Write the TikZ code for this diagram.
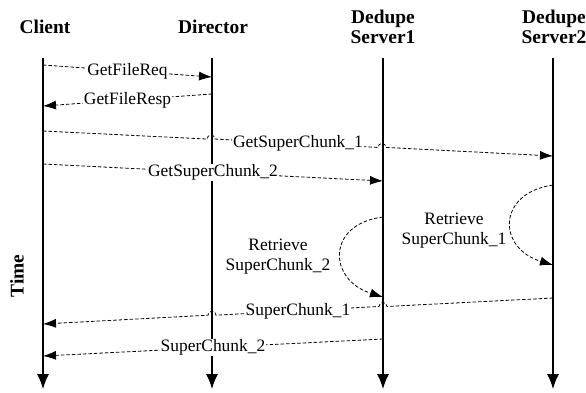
\documentclass[tikz,border=0pt]{standalone}
\usepackage{fontspec}
\setmainfont{Liberation Serif}
\usepackage{tikz}
\usetikzlibrary{arrows.meta,calc,positioning}

\tikzset{
	head/.style={align=center, inner sep=0pt, font=\fontsize{19.5}{20}\selectfont\bfseries},
	life/.style={draw=black, line width=1.2bp, -{Latex[length=15bp,width=12bp]}},
	msg/.style={draw=black, line width=0.8bp, dash pattern=on 3.5bp off 2bp, ->},
	lbl/.style={fill=white, inner sep=1bp, font=\fontsize{17.5}{19}\selectfont},
	note/.style={align=center, inner sep=0pt, font=\fontsize{17.5}{20}\selectfont}
}

\begin{document}
\begin{tikzpicture}[x=1bp,y=-1bp,>={Latex[length=13bp,width=9bp]}]
	\useasboundingbox (0,0) rectangle (586,392);
	
	% headers
	\node[head] (client) at (45,27) {Client};
	\node[head] (director) at (213,27) {Director};
	\node[head] (ds1) at (383,27) {Dedupe\\Server1};
	\node[head] (ds2) at (554,27) {Dedupe\\Server2};
	\node[head, rotate=90] (time) at (17,276) {Time};
	
	% lifelines
	\foreach \n/\x in {cl/43,di/212,sa/383,sb/553} {
		\coordinate (\n-top) at (\x,58);
		\coordinate (\n-end) at (\x,389);
		\draw[life] (\n-top) -- (\n-end);
	}
	
	% message ends
	\coordinate (m1a) at (43,65);   \coordinate (m1b) at (212,77);
	\coordinate (m2a) at (212,94);  \coordinate (m2b) at (43,106);
	\coordinate (m3a) at (43,131);  \coordinate (m3b) at (553,156);
	\coordinate (m4a) at (43,164);  \coordinate (m4b) at (383,181);
	\coordinate (r1a) at (553,185); \coordinate (r1b) at (553,265);
	\coordinate (r2a) at (383,217); \coordinate (r2b) at (383,297);
	\coordinate (m5a) at (553,298); \coordinate (m5b) at (43,324);
	\coordinate (m6a) at (383,339); \coordinate (m6b) at (43,356);
	
	\path[msg] (m1a) -- (m1b);
	\path[msg] (m2a) -- (m2b);
	\path[msg] (m3a) -- ($(m3a)!0.3216!(m3b)$) arc[start angle=180,end angle=0,radius=4bp]
		-- ($(m3a)!0.6569!(m3b)$) arc[start angle=180,end angle=0,radius=4bp] -- (m3b);
	\path[msg] (m4a) -- (m4b);
	\path[msg] (r1a) .. controls (497,193) and (497,248) .. (r1b);
	\path[msg] (r2a) .. controls (326,224) and (328,280) .. (r2b);
	\path[msg] (m5a) -- ($(m5a)!0.3255!(m5b)$) arc[start angle=0,end angle=180,radius=4bp]
		-- ($(m5a)!0.6608!(m5b)$) arc[start angle=0,end angle=180,radius=4bp] -- (m5b);
	\path[msg] (m6a) -- (m6b);
	
	% labels
	\node[lbl] (l1) at ($(m1a)!0.5!(m1b)$) {GetFileReq};
	\node[lbl] (l2) at ($(m2a)!0.5!(m2b)$) {GetFileResp};
	\node[lbl] (l3) at ($(m3a)!0.5!(m3b)$) {GetSuperChunk\_1};
	\node[lbl] (l4) at ($(m4a)!0.5!(m4b)$) {GetSuperChunk\_2};
	\node[lbl] (l5) at ($(m5a)!0.5!(m5b)$) {SuperChunk\_1};
	\node[lbl] (l6) at ($(m6a)!0.5!(m6b)$) {SuperChunk\_2};
	\node[note] (n1) at (454,231) {Retrieve\\SuperChunk\_1};
	\node[note] (n2) at (278,257) {Retrieve\\SuperChunk\_2};
\end{tikzpicture}
\end{document}
